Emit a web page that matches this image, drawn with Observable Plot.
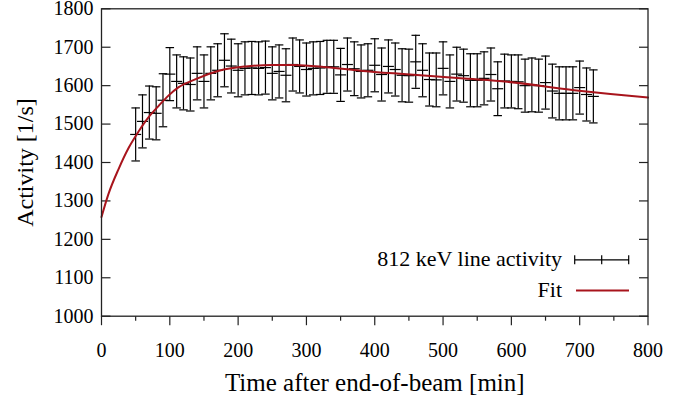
<!DOCTYPE html>
<html><head><meta charset="utf-8">
<script src="https://cdn.jsdelivr.net/npm/d3@7"></script>
<script src="https://cdn.jsdelivr.net/npm/@observablehq/plot@0.6"></script>
<style>html,body{margin:0;padding:0;background:#fff;} #chart{width:689px;height:400px;}</style>
</head><body><div id="chart"></div>
<script>
// ---- data ----
const times = [50,60,70,80,90,100,110,120,130,140,150,160,170,180,190,200,210,220,230,240,250,260,270,280,290,300,310,320,330,340,350,360,370,380,390,400,410,420,430,440,450,460,470,480,490,500,510,520,530,540,550,560,570,580,590,600,610,620,630,640,650,660,670,680,690,700,710,720];
const activity = [1473,1507,1530,1528,1562,1630,1611,1606,1603,1632,1611,1632,1640,1666,1651,1640,1645,1646,1645,1647,1632,1637,1627,1655,1650,1642,1645,1646,1649,1649,1628,1655,1644,1637,1640,1653,1629,1650,1642,1627,1626,1662,1640,1616,1615,1645,1611,1630,1626,1614,1614,1619,1629,1592,1612,1611,1610,1600,1602,1600,1608,1586,1580,1580,1580,1595,1577,1572];
const errors = [69,69,69,69,69,69,69,69,69,69,69,69,69,69,70,69,69,69,69,69,69,69,69,69,69,69,69,69,69,69,69,69,70,69,69,69,69,69,69,69,69,69,69,69,70,69,69,70,69,69,69,69,69,70,70,69,70,69,70,69,69,70,69,69,69,69,69,69];
const fitTimes  = [0,10,25,40,54,69,84,98,113,138,172,211,250,282,330,379,428,477,526,594,692,745,800];
const fitValues = [1258,1317,1383,1439,1480,1518,1548,1574,1596,1617,1639,1650,1654,1654,1648,1639,1632,1626,1619,1610,1588,1578,1569];
const xTicks = [0,100,200,300,400,500,600,700,800];
const xMinorTicks = [50,150,250,350,450,550,650,750];
const yTicks = [1000,1100,1200,1300,1400,1500,1600,1700,1800];
const legendLabels = ["812 keV line activity", "Fit"];
const xTitle = "Time after end-of-beam [min]";
const yTitle = "Activity [1/s]";

const points = times.map((t, i) => ({t, v: activity[i], e: errors[i]}));
const fit = fitTimes.map((t, i) => ({t, v: fitValues[i]}));

const font = "'Liberation Serif', 'Times New Roman', serif";
const fitColor = "#a8141c";
const tickShape = {draw(ctx, l) { ctx.moveTo(0, 0); ctx.lineTo(0, -l); }};
const hSeg = (w) => ({draw(ctx) { ctx.moveTo(-w / 2, 0); ctx.lineTo(w / 2, 0); }});
const errSample = {draw(ctx) {
  ctx.moveTo(-27, 0); ctx.lineTo(27, 0);
  for (const x of [-27, 0, 27]) { ctx.moveTo(x, -4.5); ctx.lineTo(x, 4.5); }
}};

const chart = Plot.plot({
  width: 689, height: 400,
  marginLeft: 101, marginRight: 41.5, marginTop: 8.3, marginBottom: 84.3,
  style: {fontFamily: font, fontSize: "20px", background: "white", color: "black", overflow: "visible"},
  x: {domain: [0, 800]},
  y: {domain: [1000, 1800]},
  marks: [
    // axis labels
    Plot.axisX({ticks: xTicks, anchor: "bottom", tickSize: 0, tickPadding: 27, tickFormat: d3.format("d"), label: null, fontSize: 20, fontFamily: font}),
    Plot.axisY({ticks: yTicks, anchor: "left", tickSize: 0, tickPadding: 8, tickFormat: d3.format("d"), label: null, fontSize: 20, fontFamily: font}),
    // ticks
    Plot.vector(xTicks, {x: d => d, frameAnchor: "bottom", rotate: 180, length: 9, anchor: "start", shape: tickShape, stroke: "#222", strokeWidth: 1.2, strokeLinecap: "butt"}),
    Plot.vector(xMinorTicks, {x: d => d, frameAnchor: "bottom", rotate: 180, length: 4.5, anchor: "start", shape: tickShape, stroke: "#222", strokeWidth: 1.2, strokeLinecap: "butt"}),
    Plot.vector(yTicks, {y: d => d, frameAnchor: "left", rotate: 90, length: 9, anchor: "start", shape: tickShape, stroke: "#222", strokeWidth: 1.2, strokeLinecap: "butt"}),
    Plot.vector(yTicks, {y: d => d, frameAnchor: "right", rotate: -90, length: 9, anchor: "start", shape: tickShape, stroke: "#222", strokeWidth: 1.2, strokeLinecap: "butt"}),
    // error bars
    Plot.ruleX(points, {x: "t", y1: d => d.v - d.e, y2: d => d.v + d.e, stroke: "black", strokeWidth: 1.2}),
    Plot.vector(points, {x: "t", y: d => d.v + d.e, length: 1, anchor: "start", shape: hSeg(8.5), stroke: "black", strokeWidth: 1.2, strokeLinecap: "butt"}),
    Plot.vector(points, {x: "t", y: d => d.v - d.e, length: 1, anchor: "start", shape: hSeg(8.5), stroke: "black", strokeWidth: 1.2, strokeLinecap: "butt"}),
    Plot.vector(points, {x: "t", y: "v", length: 1, anchor: "start", shape: hSeg(11), stroke: "black", strokeWidth: 1.2, strokeLinecap: "butt"}),
    // fit
    Plot.line(fit, {x: "t", y: "v", curve: "monotone-x", stroke: fitColor, strokeWidth: 2}),
    // legend
    Plot.text([legendLabels[0]], {text: d => d, frameAnchor: "bottom-right", textAnchor: "end", lineAnchor: "middle", dx: -86, dy: -57, fontSize: 22, fontFamily: font, fill: "black"}),
    Plot.text([legendLabels[1]], {text: d => d, frameAnchor: "bottom-right", textAnchor: "end", lineAnchor: "middle", dx: -86, dy: -26, fontSize: 22, fontFamily: font, fill: "black"}),
    Plot.vector([0], {frameAnchor: "bottom-right", dx: -46.3, dy: -56.4, length: 1, anchor: "start", shape: errSample, stroke: "black", strokeWidth: 1.2, strokeLinecap: "butt"}),
    Plot.vector([0], {frameAnchor: "bottom-right", dx: -45.5, dy: -25.7, length: 1, anchor: "start", shape: hSeg(53), stroke: fitColor, strokeWidth: 2, strokeLinecap: "butt"}),
    // titles
    Plot.text([xTitle], {text: d => d, frameAnchor: "bottom", textAnchor: "middle", lineAnchor: "middle", dy: 66.5, fontSize: 25, fontFamily: font, fill: "black"}),
    Plot.text([yTitle], {text: d => d, frameAnchor: "left", textAnchor: "middle", lineAnchor: "middle", rotate: -90, dx: -76, fontSize: 24, fontFamily: font, fill: "black"}),
    Plot.frame({stroke: "#222", strokeWidth: 1.3})
  ]
});
document.getElementById("chart").appendChild(chart);
</script>
</body></html>
